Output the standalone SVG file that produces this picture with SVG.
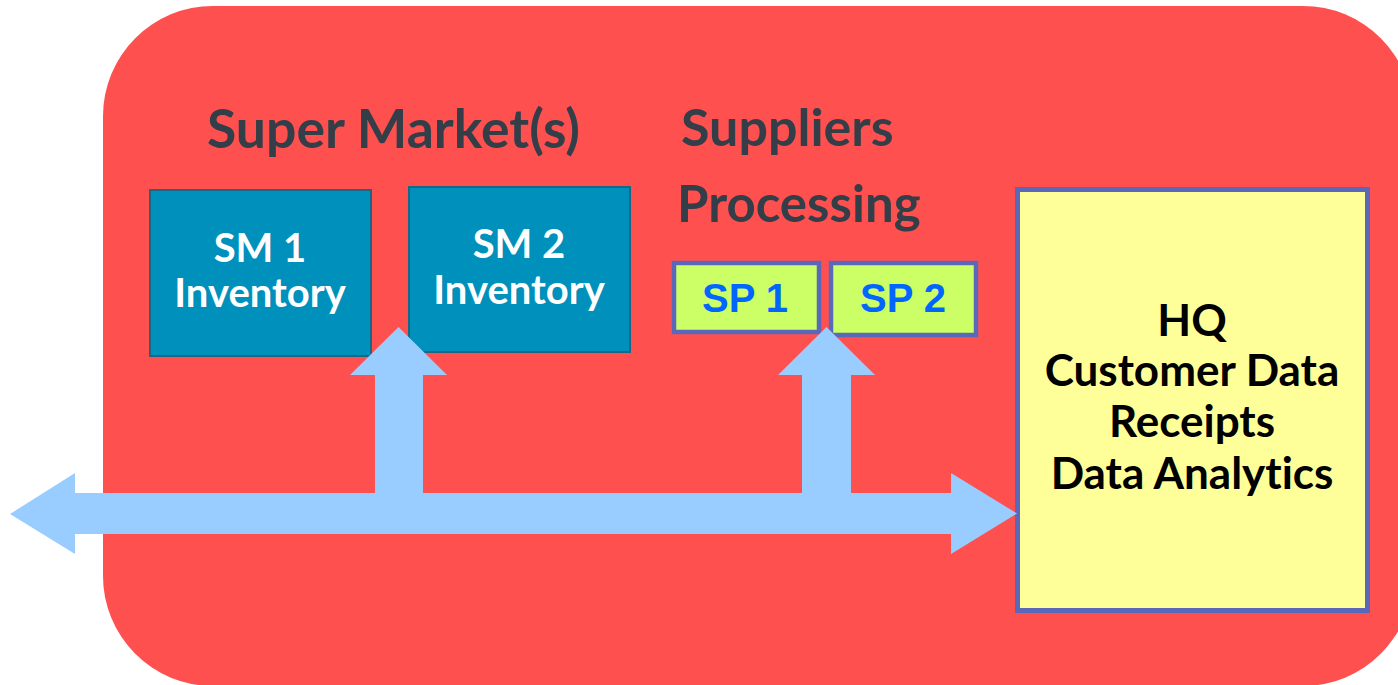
<svg xmlns="http://www.w3.org/2000/svg" width="1398" height="685" viewBox="0 0 1398 685">
<style>
text{font-variant-ligatures:none}
.title{font-family:Lato,"Open Sans",sans-serif;font-weight:bold;font-size:52px;fill:#343E48}
.sm{fill:#0090BC;stroke:#1A6685;stroke-width:2}
.smt{font-family:Lato,"Open Sans",sans-serif;font-weight:bold;font-size:40px;fill:#FFFFFF;text-anchor:middle}
.sp{fill:#CCFF66;stroke:#5B67B9;stroke-width:4.5}
.spt{font-family:"Liberation Sans",Arial,sans-serif;font-weight:bold;font-size:40px;fill:#0066FF;text-anchor:middle}
.hq{fill:#FFFF99;stroke:#5B67B9;stroke-width:5}
.hqt{font-family:Lato,"Open Sans",sans-serif;font-weight:bold;font-size:44px;fill:#000000;text-anchor:middle}
.arr{fill:#99CCFF}
</style>
<g id="background">
<rect x="103" y="6" width="1310" height="680" rx="110" ry="110" fill="#FF5050"/>
</g>
<g id="labels">
<text class="title" x="207" y="148" style="font-size:53.5px">Super Market(s)</text>
<text class="title" x="681" y="146">Suppliers</text>
<text class="title" x="677" y="222" style="font-size:51px">Processing</text>
</g>
<g id="sm1">
<rect class="sm" x="150" y="190" width="221" height="166"/>
<text class="smt" x="260" y="262">SM 1</text>
<text class="smt" x="260" y="307">Inventory</text>
</g>
<g id="sm2">
<rect class="sm" x="409" y="187" width="221" height="165"/>
<text class="smt" x="519" y="258">SM 2</text>
<text class="smt" x="519" y="304">Inventory</text>
</g>
<g id="sp1">
<rect class="sp" x="674" y="263" width="145" height="69"/>
<text class="spt" x="745" y="312">SP 1</text>
</g>
<g id="sp2">
<rect class="sp" x="831" y="263" width="145" height="72"/>
<text class="spt" x="903" y="312">SP 2</text>
</g>
<g id="hq">
<rect class="hq" x="1017.5" y="189.5" width="350" height="421"/>
<text class="hqt" x="1192" y="336">HQ</text>
<text class="hqt" x="1192" y="386">Customer Data</text>
<text class="hqt" x="1192" y="437">Receipts</text>
<text class="hqt" x="1192" y="489">Data Analytics</text>
</g>
<g id="connectors">
<path class="arr" d="M10,514 L75,473 L75,493 L375,493 L375,375 L350,375 L398.5,327 L447,375 L423,375 L423,493 L802,493 L802,375 L778,375 L826.5,327 L875,375 L851,375 L851,493 L951,493 L951,473 L1017,513.5 L951,554 L951,534 L75,534 L75,554 Z"/>
</g>
</svg>
